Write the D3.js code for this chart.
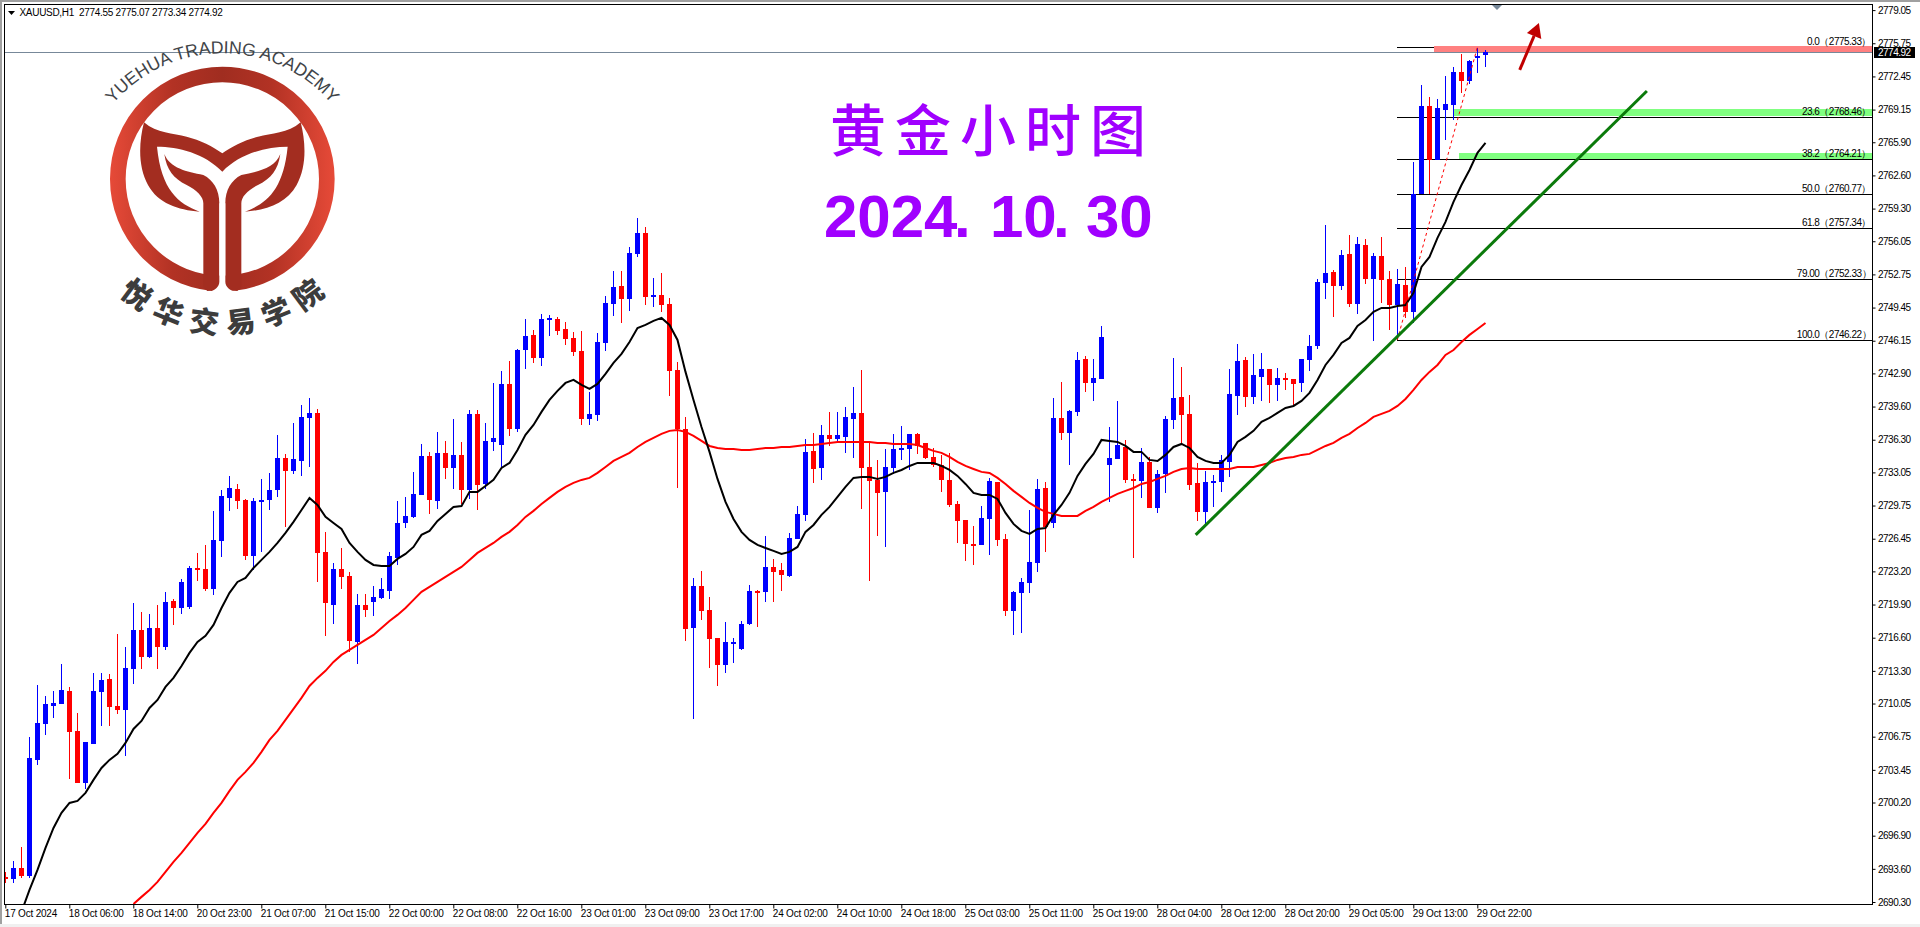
<!DOCTYPE html>
<html><head><meta charset="utf-8">
<style>html,body{margin:0;padding:0;background:#fff;overflow:hidden}svg{display:block}</style>
<script src="https://cdn.jsdelivr.net/npm/d3@7"></script></head><body>
<svg id="c" width="1920" height="927"></svg>
<script>
const opens=[2692.80,2692.60,2693.69,2692.90,2704.44,2708.02,2709.81,2710.01,2711.31,2707.33,
2702.15,2706.03,2711.21,2712.50,2709.81,2709.41,2713.49,2717.37,2714.69,2717.57,
2715.68,2720.26,2719.56,2719.66,2723.54,2723.44,2721.45,2726.23,2730.51,2731.40,
2730.31,2724.74,2730.11,2730.31,2731.30,2734.49,2733.20,2734.19,2738.47,2738.97,
2725.14,2719.86,2723.44,2722.75,2716.18,2719.86,2720.16,2720.56,2721.26,2724.54,
2728.02,2728.62,2730.81,2734.69,2730.21,2734.99,2733.49,2734.79,2731.30,2738.87,
2731.90,2736.08,2735.78,2741.85,2737.37,2745.23,2746.73,2744.44,2748.22,2748.32,
2747.32,2746.43,2745.14,2738.37,2738.77,2745.93,2749.81,2751.60,2750.31,2754.79,
2756.88,2750.51,2750.71,2749.81,2743.24,2737.37,2717.57,2721.75,2719.36,2716.58,
2713.89,2715.98,2715.48,2717.97,2721.26,2721.16,2723.64,2723.34,2722.75,2726.43,
2728.82,2735.19,2733.49,2736.78,2736.38,2736.58,2738.37,2738.97,2733.59,2732.30,
2731.11,2733.49,2735.28,2735.38,2736.88,2735.98,2734.59,2733.79,2732.30,2729.91,
2728.32,2725.93,2725.83,2728.42,2732.10,2726.43,2719.27,2721.06,2722.05,2724.04,
2731.50,2728.02,2738.47,2736.98,2739.07,2744.34,2741.95,2742.35,2733.79,2734.39,
2735.58,2732.40,2732.20,2734.09,2729.51,2732.90,2738.27,2740.56,2738.87,2732.00,
2729.12,2732.00,2732.10,2734.09,2740.66,2744.24,2740.56,2742.55,2743.34,2741.75,
2742.45,2742.35,2741.95,2744.24,2745.63,2751.90,2753.00,2751.60,2754.79,2749.81,
2755.68,2752.30,2754.59,2752.30,2749.71,2751.70,2749.02,2760.76,2769.51,2764.14,
2769.11,2769.61,2772.90,2772.00,2774.29,2774.55];
const highs=[2693.30,2694.39,2695.78,2706.73,2711.90,2710.81,2711.31,2713.99,2711.70,2709.12,
2706.23,2713.10,2713.10,2713.00,2716.98,2715.68,2720.06,2719.17,2718.97,2719.86,
2721.16,2720.46,2722.45,2723.74,2725.04,2725.83,2729.22,2731.30,2732.70,2731.90,
2730.41,2730.51,2732.40,2733.00,2736.78,2734.89,2737.97,2739.76,2740.46,2739.36,
2727.13,2724.04,2725.53,2723.15,2720.96,2720.96,2721.75,2722.55,2725.14,2730.21,
2730.61,2733.10,2735.88,2735.09,2737.08,2736.18,2738.37,2736.08,2739.26,2739.26,
2737.97,2741.95,2743.15,2744.14,2745.33,2748.32,2747.22,2748.82,2748.72,2748.52,
2748.02,2747.03,2747.13,2741.06,2746.93,2750.61,2753.10,2753.10,2755.48,2758.37,
2757.47,2752.40,2752.90,2750.41,2744.04,2738.57,2722.55,2723.25,2720.66,2716.58,
2718.17,2716.58,2718.27,2721.85,2721.35,2726.73,2724.44,2724.04,2727.03,2729.71,
2736.38,2736.98,2737.77,2739.07,2739.07,2739.56,2741.55,2743.24,2736.08,2734.29,
2735.38,2736.88,2737.67,2736.88,2736.98,2735.98,2735.48,2734.79,2734.99,2730.21,
2728.32,2727.72,2729.71,2732.50,2732.10,2726.93,2721.26,2722.55,2729.31,2732.40,
2732.10,2740.46,2742.05,2739.26,2745.04,2744.64,2744.34,2747.62,2737.57,2740.16,
2736.28,2732.90,2735.48,2734.59,2733.29,2738.67,2744.44,2743.54,2740.76,2733.99,
2733.20,2732.80,2734.79,2743.34,2745.83,2744.54,2744.84,2744.94,2743.34,2743.44,
2742.95,2742.35,2744.34,2746.73,2752.30,2757.67,2753.19,2755.18,2756.68,2756.48,
2756.28,2754.89,2756.48,2753.10,2753.29,2753.49,2763.94,2771.60,2770.41,2770.21,
2772.50,2773.39,2774.69,2774.09,2775.28,2775.07];
const lows=[2692.20,2692.20,2692.70,2692.70,2703.94,2706.93,2708.62,2710.01,2702.55,2702.15,
2701.55,2706.03,2707.82,2707.82,2709.02,2704.84,2712.00,2713.49,2714.59,2713.49,
2715.38,2717.87,2718.97,2719.46,2722.25,2721.26,2720.86,2724.64,2729.22,2729.41,
2724.34,2723.34,2725.14,2729.31,2730.61,2727.62,2732.90,2732.70,2733.59,2722.15,
2716.78,2717.97,2721.45,2715.19,2713.99,2718.67,2718.77,2720.46,2720.46,2723.84,
2727.52,2728.52,2730.81,2728.92,2729.41,2732.40,2731.40,2729.91,2730.41,2729.31,
2731.40,2735.19,2733.49,2736.68,2737.08,2743.34,2743.94,2743.64,2746.63,2746.73,
2745.73,2744.64,2737.77,2737.77,2738.17,2745.14,2748.62,2747.92,2749.12,2754.49,
2749.71,2749.51,2749.02,2740.66,2731.50,2716.28,2708.52,2718.37,2713.59,2711.80,
2713.10,2714.09,2715.38,2717.87,2717.67,2720.16,2720.16,2721.26,2722.65,2726.43,
2728.22,2732.00,2732.30,2735.68,2736.08,2734.99,2734.49,2729.41,2722.25,2726.73,
2725.63,2732.90,2734.29,2733.29,2734.89,2734.39,2733.59,2731.11,2729.61,2726.03,
2724.24,2723.84,2725.83,2724.84,2725.73,2718.77,2716.88,2717.08,2721.06,2723.15,
2725.14,2727.52,2736.28,2733.79,2738.67,2741.06,2740.16,2742.35,2730.11,2734.39,
2732.00,2724.54,2730.51,2729.51,2729.02,2731.01,2737.37,2735.78,2731.30,2728.22,
2727.82,2729.61,2731.11,2732.60,2738.77,2739.56,2739.86,2740.16,2739.96,2740.16,
2741.25,2739.76,2741.06,2743.15,2745.33,2750.31,2748.52,2751.20,2749.51,2748.82,
2751.80,2746.13,2749.91,2747.22,2746.23,2748.42,2747.92,2760.76,2760.76,2764.14,
2766.13,2768.12,2770.81,2771.70,2772.80,2773.34];
const closes=[2692.60,2693.69,2692.90,2704.64,2708.12,2710.01,2710.11,2711.40,2707.23,2702.15,
2706.23,2711.31,2712.40,2709.71,2709.41,2713.59,2717.37,2714.69,2717.57,2715.68,
2720.16,2719.56,2722.15,2723.54,2723.34,2721.45,2726.33,2730.71,2731.50,2730.21,
2724.74,2730.21,2730.31,2731.30,2734.49,2733.20,2734.39,2738.57,2738.97,2725.04,
2720.06,2723.44,2722.65,2716.28,2719.86,2719.36,2720.66,2721.45,2724.74,2728.02,
2728.72,2730.91,2734.69,2730.31,2734.99,2733.49,2734.79,2731.30,2738.87,2731.80,
2736.18,2736.48,2741.85,2737.37,2745.23,2746.63,2744.44,2748.32,2748.42,2747.13,
2746.33,2745.04,2738.37,2738.87,2746.03,2749.91,2751.50,2750.31,2754.89,2756.88,
2750.51,2750.71,2749.71,2743.15,2737.37,2717.47,2721.75,2719.27,2716.48,2713.89,
2716.18,2716.18,2717.97,2721.26,2721.06,2723.64,2723.15,2722.85,2726.53,2728.92,
2735.09,2733.39,2736.78,2736.38,2736.78,2738.57,2738.97,2733.49,2732.20,2731.01,
2733.59,2735.38,2735.48,2736.88,2735.68,2734.49,2733.79,2732.30,2729.81,2728.22,
2725.93,2725.73,2728.52,2732.20,2726.33,2719.27,2721.16,2722.15,2724.14,2731.40,
2727.62,2738.47,2736.98,2739.17,2744.24,2741.95,2742.45,2746.53,2734.49,2735.78,
2732.30,2732.20,2734.09,2729.51,2732.90,2738.37,2740.46,2738.77,2731.80,2729.12,
2732.10,2732.20,2734.29,2740.86,2744.14,2740.56,2742.75,2743.34,2741.75,2742.45,
2742.25,2741.85,2744.34,2745.63,2752.00,2752.90,2751.60,2754.69,2749.81,2755.78,
2752.30,2754.59,2752.20,2749.71,2751.80,2749.02,2760.76,2769.51,2764.14,2769.31,
2769.71,2772.90,2772.00,2773.99,2774.49,2774.92];
// fast MA (black) and slow MA (red); both end on the newest bar
const fastMA=[2689.32,2691.50,2693.49,2695.68,2697.67,2699.17,2700.16,2700.36,2701.16,2702.45,2703.64,2704.44,2705.04,2706.13,2707.52,2708.32,2709.61,2710.41,2711.70,2712.60,
2713.79,2715.09,2716.18,2716.78,2717.87,2719.56,2721.06,2722.15,2722.55,2723.54,2724.34,2725.14,2726.03,2727.03,2728.12,2729.31,2730.51,2729.81,2728.62,2728.02,
2727.42,2726.03,2725.14,2724.34,2723.84,2723.74,2723.74,2724.44,2724.94,2725.63,2726.83,2727.23,2728.22,2728.92,2729.61,2729.71,2731.11,2731.11,2731.70,2732.30,
2733.49,2733.99,2735.28,2736.78,2737.77,2739.07,2740.26,2741.16,2741.95,2742.25,2741.75,2741.35,2741.85,2742.85,2743.94,2744.84,2746.03,2747.42,2747.72,2748.12,
2748.42,2747.72,2746.23,2743.05,2740.26,2737.57,2735.09,2732.40,2730.11,2728.42,2727.13,2726.33,2725.83,2725.53,2725.24,2724.94,2725.14,2725.63,2727.13,2727.82,
2728.82,2729.61,2730.61,2731.60,2732.50,2732.60,2732.60,2732.40,2732.60,2733.00,2733.29,2733.69,2733.99,2733.99,2733.99,2733.69,2733.29,2732.70,2731.90,2731.01,
2730.81,2730.81,2730.41,2729.02,2727.92,2727.23,2726.93,2727.42,2727.52,2728.82,2729.81,2731.01,2732.70,2733.89,2734.89,2736.28,2736.18,2736.08,2735.68,2735.09,
2735.09,2734.29,2734.19,2734.79,2735.58,2735.88,2735.48,2734.59,2734.19,2733.99,2733.99,2734.79,2736.08,2736.58,2737.18,2738.07,2738.47,2738.97,2739.46,2739.66,
2740.16,2740.96,2742.25,2743.74,2744.74,2745.93,2746.43,2747.62,2748.22,2749.02,2749.41,2749.41,2749.61,2749.71,2750.91,2753.49,2754.49,2756.38,2757.97,2759.96,
2761.65,2763.14,2764.84,2765.83];
const slowMA=[2690.11,2690.81,2691.50,2692.30,2693.30,2694.29,2695.19,2696.18,2697.18,2698.07,2699.17,2700.16,2701.36,2702.45,2703.25,2704.14,2705.24,2706.43,2707.33,2708.42,
2709.51,2710.61,2711.80,2712.60,2713.30,2714.19,2714.89,2715.38,2715.88,2716.38,2716.88,2717.57,2718.27,2718.87,2719.56,2720.36,2721.16,2721.65,2722.15,2722.65,
2723.15,2723.64,2724.34,2725.04,2725.53,2726.03,2726.63,2727.13,2727.82,2728.62,2729.22,2729.91,2730.51,2731.11,2731.60,2732.00,2732.30,2732.50,2733.00,2733.59,
2734.19,2734.59,2734.99,2735.58,2736.08,2736.48,2736.88,2737.18,2737.27,2737.08,2736.68,2736.18,2735.68,2735.48,2735.38,2735.38,2735.28,2735.28,2735.38,2735.48,
2735.48,2735.58,2735.58,2735.68,2735.78,2735.78,2735.88,2735.98,2736.08,2736.08,2736.08,2736.08,2736.08,2735.98,2735.98,2735.88,2735.88,2735.88,2735.78,2735.48,
2735.19,2734.99,2734.59,2734.09,2733.69,2733.39,2733.10,2733.00,2732.50,2731.90,2731.21,2730.61,2730.01,2729.51,2729.12,2728.92,2728.72,2728.72,2728.72,2729.22,
2729.61,2730.11,2730.51,2730.91,2731.21,2731.50,2731.90,2732.10,2732.40,2732.70,2733.10,2733.39,2733.49,2733.39,2733.39,2733.39,2733.39,2733.39,2733.59,2733.59,
2733.59,2733.79,2733.99,2734.29,2734.49,2734.59,2734.79,2734.89,2735.28,2735.68,2735.98,2736.48,2736.88,2737.47,2737.97,2738.57,2738.87,2739.17,2739.66,2740.36,
2741.25,2742.25,2743.05,2743.74,2744.74,2745.23,2746.03,2746.73,2747.32,2747.92];
const priceTicks=[2779.05,2775.75,2772.45,2769.15,2765.90,2762.60,2759.30,2756.05,2752.75,2749.45,2746.15,2742.90,2739.60,2736.30,2733.05,2729.75,2726.45,2723.20,2719.90,2716.60,2713.30,2710.05,2706.75,2703.45,2700.20,2696.90,2693.60,2690.30];
const timeLabels=["17 Oct 2024","18 Oct 06:00","18 Oct 14:00","20 Oct 23:00","21 Oct 07:00","21 Oct 15:00","22 Oct 00:00","22 Oct 08:00","22 Oct 16:00","23 Oct 01:00","23 Oct 09:00","23 Oct 17:00","24 Oct 02:00","24 Oct 10:00","24 Oct 18:00","25 Oct 03:00","25 Oct 11:00","25 Oct 19:00","28 Oct 04:00","28 Oct 12:00","28 Oct 20:00","29 Oct 05:00","29 Oct 13:00","29 Oct 22:00"];
const fibLabels=["0.0","23.6","38.2","50.0","61.8","79.00","100.0"];
const fibPrices=[2775.33,2768.46,2764.21,2760.77,2757.34,2752.33,2746.22];
const fibAnchorBar=174, fibPeakBar=184;
const zoneBars=[178.6,181.1,181.7];
const zoneTops=[2775.48,2769.21,2764.84];
const zoneBottoms=[2774.88,2768.52,2764.24];
const zoneColors=["#ff8080","#80ff80","#80ff80"];
const trendBars=[148.8,205.2], trendPrices=[2726.83,2771.00];
const arrowBars=[189.3,191.1], arrowPrices=[2773.10,2776.48];
const headBars=[191.7,190.2,192.0], headPrices=[2777.77,2776.78,2776.18];
const lastPrice=2774.92;
const symbolLine="XAUUSD,H1  2774.55 2775.07 2773.34 2774.92";

const svg=d3.select("#c");
const uiFont="'Liberation Sans',Arial,sans-serif";
const uiSize=10, uiTrack=-.5;
const L=4.5,T=4.5,R=1872.5,B=904.5;
const x=d3.scaleLinear().domain([0,185]).range([5.3,1485.3]);
const y=d3.scaleLinear().domain([2779.05,2690.30]).range([10.1,902]);
const defs=svg.append("defs");
defs.append("clipPath").attr("id","plot").append("rect").attr("x",L).attr("y",T).attr("width",R-L).attr("height",B-T);
const grad=defs.append("linearGradient").attr("id","ringG").attr("gradientUnits","userSpaceOnUse").attr("x1",330).attr("x2",1003).attr("y1",0).attr("y2",0);
[[0,"#e64a38"],[.28,"#b23224"],[.5,"#a02d20"],[.72,"#b23224"],[1,"#e64a38"]].forEach(s=>grad.append("stop").attr("offset",s[0]).attr("stop-color",s[1]));

// window frame
svg.append("rect").attr("width",1920).attr("height",927).attr("fill","#fff");
svg.append("rect").attr("width",1920).attr("height",2).attr("fill","#a0a0a0");
svg.append("rect").attr("width",2).attr("height",927).attr("fill","#a0a0a0");
svg.append("rect").attr("y",924).attr("width",1920).attr("height",3).attr("fill","#f0f0f0");

const plot=svg.append("g").attr("clip-path","url(#plot)");
// fib lines sit behind the zones and candles
const fibX0=Math.round(x(fibAnchorBar));
plot.append("g").attr("shape-rendering","crispEdges").selectAll("line").data(fibPrices).join("line")
 .attr("x1",fibX0).attr("x2",R).attr("y1",d=>Math.round(y(d))+.5).attr("y2",d=>Math.round(y(d))+.5).attr("stroke","#000");
// zones
plot.append("g").selectAll("rect").data(zoneBars).join("rect")
 .attr("x",d=>Math.round(x(d))).attr("width",d=>R-Math.round(x(d)))
 .attr("y",(d,i)=>Math.round(y(zoneTops[i]))).attr("height",(d,i)=>Math.round(y(zoneBottoms[i]))-Math.round(y(zoneTops[i])))
 .attr("fill",(d,i)=>zoneColors[i]);
// bid line
const bidY=Math.round(y(lastPrice))+.5;
plot.append("line").attr("x1",L).attr("x2",R).attr("y1",bidY).attr("y2",bidY).attr("stroke","#778899");
// candles
const bars=d3.range(opens.length);
const col=i=>closes[i]>=opens[i]?"#0000ff":"#ff0000";
const gc=plot.append("g").attr("shape-rendering","crispEdges");
gc.selectAll("rect.w").data(bars).join("rect").attr("class","w")
 .attr("x",i=>Math.floor(x(i))).attr("width",1)
 .attr("y",i=>Math.round(y(highs[i]))).attr("height",i=>Math.max(1,Math.round(y(lows[i]))-Math.round(y(highs[i]))))
 .attr("fill",col);
gc.selectAll("rect.b").data(bars).join("rect").attr("class","b")
 .attr("x",i=>Math.floor(x(i))-2).attr("width",5)
 .attr("y",i=>Math.round(y(Math.max(opens[i],closes[i]))))
 .attr("height",i=>Math.max(2,Math.round(y(Math.min(opens[i],closes[i])))-Math.round(y(Math.max(opens[i],closes[i])))))
 .attr("fill",col);
// MAs
const maLine=arr=>{const off=opens.length-arr.length;return d3.line().x((d,k)=>x(k+off)+.2).y(d=>y(d))(arr);};
plot.append("path").attr("d",maLine(slowMA)).attr("fill","none").attr("stroke","#ff0000").attr("stroke-width",2);
plot.append("path").attr("d",maLine(fastMA)).attr("fill","none").attr("stroke","#000").attr("stroke-width",2);
// dotted fib trend
svg.append("line").attr("x1",x(fibAnchorBar)).attr("y1",y(fibPrices[6])).attr("x2",x(fibPeakBar)).attr("y2",y(fibPrices[0]))
 .attr("stroke","#ff0000").attr("stroke-dasharray","3,3");
svg.append("g").selectAll("text").data(fibLabels).join("text")
 .attr("x",1871).attr("y",(d,i)=>Math.round(y(fibPrices[i]))-2).attr("text-anchor","end")
 .attr("font-family",uiFont).attr("font-size",uiSize).attr("letter-spacing",uiTrack).attr("fill","#000")
 .text((d,i)=>d+"（"+fibPrices[i].toFixed(2)+"）");
// trend line
svg.append("line").attr("x1",x(trendBars[0])).attr("y1",y(trendPrices[0])).attr("x2",x(trendBars[1])).attr("y2",y(trendPrices[1]))
 .attr("stroke","#0b7a0b").attr("stroke-width",3);
// arrow
svg.append("line").attr("x1",x(arrowBars[0])).attr("y1",y(arrowPrices[0])).attr("x2",x(arrowBars[1])).attr("y2",y(arrowPrices[1]))
 .attr("stroke","#c00000").attr("stroke-width",3);
svg.append("polygon").attr("points",headBars.map((b,i)=>[x(b),y(headPrices[i])].join(",")).join(" ")).attr("fill","#c00000");

// frame lines
svg.append("path").attr("d",`M${L},${B}V${T}H${R}V${B}H${L}`).attr("fill","none").attr("stroke","#000").attr("shape-rendering","crispEdges");
// axes
const ax=svg.append("g").attr("transform",`translate(${R},0)`).call(d3.axisRight(y).tickValues(priceTicks).tickFormat(d3.format(".2f")).tickSize(3).tickPadding(2.5));
ax.select(".domain").remove();
ax.selectAll("text").attr("font-family",uiFont).attr("font-size",uiSize).attr("letter-spacing",uiTrack).attr("fill","#000");
ax.selectAll("line").attr("stroke","#000");
const tickBars=timeLabels.map((d,i)=>i*8);
const at=svg.append("g").attr("transform",`translate(0,${B})`).call(d3.axisBottom(x).tickValues(tickBars).tickFormat((d,i)=>timeLabels[i]).tickSize(4).tickPadding(1));
at.select(".domain").remove();
at.selectAll("text").attr("font-family",uiFont).attr("font-size",uiSize).attr("letter-spacing",-.2).attr("fill","#000").attr("text-anchor","start").attr("x",-1);
at.selectAll("line").attr("stroke","#000");
// last price tag
svg.append("rect").attr("x",1874).attr("y",47).attr("width",41).attr("height",11).attr("fill","#000");
svg.append("text").attr("x",1878).attr("y",52.5).attr("dy",".35em").attr("font-family",uiFont).attr("font-size",uiSize).attr("letter-spacing",uiTrack).attr("fill","#fff").text(lastPrice.toFixed(2));
// period marker
svg.append("polygon").attr("points","1492,5 1502,5 1497,10").attr("fill","#778899");
// header
svg.append("polygon").attr("points","8,11 15,11 11.5,15").attr("fill","#000");
svg.append("text").attr("x",19.5).attr("y",16).attr("font-family",uiFont).attr("font-size",uiSize).attr("letter-spacing",-.3).attr("fill","#000").style("white-space","pre").text(symbolLine);

// titles
const purple="#a000ff";
svg.append("text").attr("x",830).attr("y",151).attr("font-family","'Noto Sans CJK SC'").attr("font-weight",500).attr("font-size",56).attr("letter-spacing",9).attr("fill",purple).text("黄金小时图");
const dt=svg.append("text").attr("y",237).attr("font-family","'Liberation Sans',Arial").attr("font-weight",700).attr("font-size",60).attr("fill",purple);
[["2024",824],[".",954],["10",990],[".",1053],["30",1086]].forEach(s=>dt.append("tspan").attr("x",s[1]).text(s[0]));

// logo
const lg=svg.append("g").attr("transform","scale(0.33333)");
lg.append("circle").attr("cx",667).attr("cy",537).attr("r",313.5).attr("fill","none").attr("stroke","url(#ringG)").attr("stroke-width",47);
lg.append("path").attr("fill","#a32d20").attr("d","M432,367C470,400 520,400 560,410C600,420 640,440 667,460C694,440 734,420 774,410C814,400 864,400 902,367C918,430 920,500 890,555C860,610 800,630 735,635C800,610 850,570 863,440C800,440 720,460 667,515C614,460 534,440 471,440C484,570 534,610 599,635C534,630 474,610 444,555C414,500 416,430 432,367Z");
const stemL="M493,462C510,505 560,515 610,525C640,540 658,570 658,610L658,845C658,860 640,872 622,873L610,860L610,610C610,590 590,570 560,555C520,535 500,510 493,462Z";
lg.append("path").attr("fill","#a32d20").attr("d",stemL);
lg.append("path").attr("fill","#a32d20").attr("d",stemL).attr("transform","translate(1334,0) scale(-1,1)");
lg.append("path").attr("fill","#fff").attr("d","M658,610L658,845C658,860 645,872 625,876L709,876C689,872 676,860 676,845L676,610Z");
lg.append("path").attr("id","logoArc").attr("fill","none").attr("d","M237,590A430,430 0 0 1 1097,590");
lg.append("text").attr("font-family","'Liberation Sans',Arial").attr("font-size",53).attr("fill","#3f4448")
 .append("textPath").attr("href","#logoArc").attr("startOffset","50%").attr("text-anchor","middle").text("YUEHUA TRADING ACADEMY");
const cn="悦华交易学院".split(""), cnAng=[-36.5,-22,-7.3,7.3,22,36.5];
lg.selectAll("text.cn").data(cn).join("text").attr("class","cn")
 .attr("font-family","'Noto Sans CJK SC'").attr("font-weight",900).attr("font-size",88).attr("fill","#3c3c3c")
 .attr("text-anchor","middle").attr("dominant-baseline","central")
 .attr("transform",(d,i)=>{const a=cnAng[i]*Math.PI/180;return `translate(${667+425*Math.sin(a)},${537+425*Math.cos(a)}) rotate(${-cnAng[i]})`;})
 .text(d=>d);
</script></body></html>
